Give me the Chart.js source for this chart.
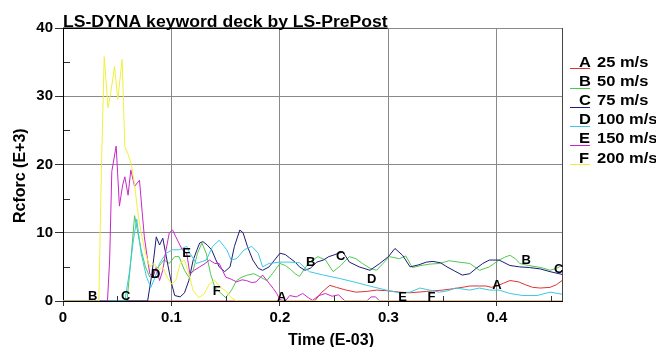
<!DOCTYPE html>
<html>
<head>
<meta charset="utf-8">
<script src="https://cdn.jsdelivr.net/npm/chart.js@4.4.1/dist/chart.umd.min.js"></script>
<style>
  html, body { margin: 0; padding: 0; background: #fff; }
  #wrap { width: 656px; height: 347px; }
</style>
</head>
<body>
<div id="wrap"><canvas id="rcforcChart" width="656" height="347"></canvas></div>
<script>
// Tiempo (E-03) y fuerza (E+3) por curva
const timeA  = [0, 0.232, 0.238, 0.246, 0.252, 0.261, 0.270, 0.280, 0.289, 0.299, 0.310, 0.320, 0.335, 0.350, 0.360, 0.368, 0.375, 0.384, 0.390, 0.395, 0.400, 0.406, 0.412, 0.420, 0.426, 0.433, 0.440, 0.449, 0.455, 0.460];
const forceA = [0, 0, 1.2, 2.3, 2, 1.6, 1.3, 1.4, 1.6, 1.5, 1.3, 1.2, 1.4, 1.6, 1.8, 2, 2.2, 2.2, 2.2, 2, 2.2, 2.6, 3, 2.8, 2.4, 2, 1.9, 2, 2.4, 3];

const timeB  = [0, 0.059, 0.062, 0.066, 0.069, 0.072, 0.076, 0.080, 0.084, 0.088, 0.093, 0.098, 0.103, 0.107, 0.112, 0.116, 0.120, 0.124, 0.128, 0.132, 0.136, 0.140, 0.145, 0.150, 0.155, 0.160, 0.165, 0.170, 0.176, 0.182, 0.188, 0.193, 0.200, 0.205, 0.210, 0.214, 0.218, 0.223, 0.228, 0.235, 0.242, 0.249, 0.256, 0.264, 0.270, 0.276, 0.283, 0.289, 0.295, 0.301, 0.310, 0.316, 0.322, 0.330, 0.338, 0.347, 0.356, 0.365, 0.375, 0.384, 0.393, 0.402, 0.407, 0.412, 0.417, 0.421, 0.429, 0.437, 0.443, 0.449, 0.455, 0.460];
const forceB = [0, 0, 5, 12.5, 10, 7.5, 5, 3.5, 4.5, 5, 6, 5.5, 6.5, 6.5, 4.5, 3.5, 4.5, 7, 8.5, 7, 4, 2, 1.2, 0.5, 1.5, 3, 3.5, 3.8, 4, 3.5, 3, 4, 5.5, 5.2, 4.6, 4, 3.6, 4.8, 5.8, 6.5, 6, 4.3, 5.2, 6.5, 6.2, 5.5, 4.8, 4.5, 5.5, 6.5, 6.2, 6.6, 4.9, 5.2, 5.4, 5.5, 5.9, 5.7, 5.5, 4.5, 5, 6, 6.4, 6.7, 6.2, 5.5, 5.2, 5, 4.8, 4.5, 4.8, 5.2];

const timeC  = [0, 0.078, 0.082, 0.086, 0.089, 0.092, 0.097, 0.100, 0.103, 0.108, 0.112, 0.116, 0.120, 0.1235, 0.126, 0.129, 0.133, 0.137, 0.141, 0.144, 0.149, 0.154, 0.158, 0.163, 0.166, 0.170, 0.175, 0.180, 0.184, 0.190, 0.195, 0.200, 0.205, 0.209, 0.214, 0.218, 0.223, 0.228, 0.234, 0.240, 0.245, 0.249, 0.254, 0.258, 0.264, 0.273, 0.283, 0.292, 0.300, 0.306, 0.313, 0.320, 0.328, 0.335, 0.341, 0.348, 0.354, 0.361, 0.368, 0.375, 0.381, 0.387, 0.393, 0.402, 0.412, 0.421, 0.430, 0.440, 0.449, 0.460];
const forceC = [0, 0, 4, 9.4, 8.2, 9.2, 5, 2.6, 0.8, 0.6, 1.2, 3, 6, 7.5, 8.5, 8.7, 8.2, 7.5, 6, 5, 4.3, 5, 8, 10.4, 10, 8, 6, 4.8, 4.5, 5, 6, 7, 6.8, 6.3, 5.7, 5, 4.5, 4.8, 5.7, 6, 6.5, 6.7, 7, 7.2, 5.7, 5, 4.5, 5.5, 6.5, 7.7, 6.7, 5, 5.3, 5.7, 5.8, 5.6, 5, 4.4, 3.8, 4, 4.8, 5.5, 6, 6, 5.2, 5, 4.9, 4.7, 4.3, 3.9];

const timeD  = [0, 0.057, 0.061, 0.065, 0.068, 0.072, 0.077, 0.081, 0.085, 0.089, 0.095, 0.101, 0.107, 0.114, 0.117, 0.123, 0.132, 0.138, 0.144, 0.151, 0.155, 0.160, 0.167, 0.174, 0.180, 0.184, 0.190, 0.200, 0.209, 0.218, 0.227, 0.240, 0.255, 0.268, 0.280, 0.298, 0.310, 0.320, 0.329, 0.338, 0.347, 0.355, 0.362, 0.375, 0.384, 0.393, 0.402, 0.412, 0.424, 0.437, 0.449, 0.460];
const forceD = [0, 0, 4, 9, 12, 7, 3.5, 2, 3.5, 5.5, 7, 7.5, 7.5, 8, 7, 5.5, 6, 8, 8.9, 7.5, 6, 6.2, 7.5, 8, 7, 5, 5.5, 5.7, 5.7, 5.6, 4.3, 3.8, 3.3, 2.8, 2.3, 1.6, 1.2, 1.3, 1.9, 1.6, 1.3, 1.5, 1.9, 1.6, 1.9, 1.6, 1.6, 1.1, 0.8, 0.8, 1.3, 1];

const timeE  = [0, 0.041, 0.043, 0.045, 0.049, 0.052, 0.055, 0.057, 0.060, 0.0625, 0.066, 0.0705, 0.073, 0.075, 0.078, 0.080, 0.083, 0.086, 0.089, 0.092, 0.095, 0.098, 0.101, 0.104, 0.110, 0.114, 0.117, 0.121, 0.126, 0.131, 0.135, 0.140, 0.144, 0.150, 0.155, 0.160, 0.165, 0.169, 0.174, 0.178, 0.184, 0.190, 0.194, 0.197, 0.200, 0.205, 0.209, 0.215, 0.221, 0.226, 0.230, 0.236, 0.242, 0.248, 0.254, 0.260, 0.280, 0.284, 0.288, 0.292, 0.460];
const forceE = [0, 0, 6, 19, 22.7, 13.9, 17, 18.2, 15.5, 19.2, 16.8, 17.7, 13, 9.4, 6, 4, 3.5, 5, 3, 4.5, 7.5, 10, 10.4, 9.4, 7.5, 7, 4, 4.5, 5, 5.5, 6, 5.5, 5.5, 3.5, 3.2, 2.8, 3.1, 3, 2.7, 2.8, 3.8, 2.6, 1.8, 1.1, 0.2, 0, 0.8, 0.6, 1.1, 0.5, 0.1, 0.8, 1.1, 0.7, 0.9, 0, 0, 0.6, 0.6, 0, 0];

const timeF  = [0, 0.030, 0.033, 0.0355, 0.038, 0.0415, 0.0445, 0.0475, 0.0505, 0.0545, 0.057, 0.060, 0.063, 0.066, 0.069, 0.072, 0.076, 0.080, 0.084, 0.088, 0.092, 0.096, 0.100, 0.104, 0.108, 0.112, 0.116, 0.120, 0.125, 0.130, 0.135, 0.140, 0.145, 0.150, 0.155, 0.160, 0.460];
const forceF = [0, 0, 0, 20, 35.8, 28.3, 31, 34.4, 29.5, 35.4, 22.6, 21.5, 20, 17, 13, 10, 7, 5, 5.5, 4.5, 5, 3.5, 2.5, 3, 5.5, 6, 4, 1.5, 0.5, 1, 2.5, 3, 2, 1.5, 0.5, 0, 0];

const seriesNames = ['25 m/s', '50 m/s', '75 m/s', '100 m/s', '150 m/s', '200 m/s'];
const seriesLetters = ['A', 'B', 'C', 'D', 'E', 'F'];

// Letras sobre las curvas (coordenadas de datos)
const markLetters = ['B', 'C', 'D', 'E', 'F', 'A', 'B', 'C', 'D', 'E', 'F', 'A', 'B', 'C'];
const markTimes   = [0.0274, 0.0578, 0.0855, 0.114, 0.1417, 0.2016, 0.2283, 0.2559, 0.2845, 0.313, 0.3397, 0.400, 0.427, 0.457];
const markForces  = [0.7, 0.7, 3.9, 7, 1.4, 0.55, 5.7, 6.6, 3.2, 0.55, 0.55, 2.3, 5.9, 4.7];

const minorX = [0.05, 0.15, 0.25, 0.35, 0.45];
const minorY = [5, 15, 25, 35];

const colores = ['rgb(222,52,52)', 'rgb(80,200,80)', 'rgb(28,28,120)', 'rgb(60,200,228)', 'rgb(200,40,200)', 'rgb(240,240,60)'];
const FONT = "'Liberation Sans', Arial, sans-serif";

function puntos(ts, vs) {
    return ts.map((t, i) => ({ x: t, y: vs[i] }));
}

const tiempos = [timeA, timeB, timeC, timeD, timeE, timeF];
const fuerzas = [forceA, forceB, forceC, forceD, forceE, forceF];

// Texto ensanchado (la imagen original esta estirada en horizontal)
function texto(ctx, str, x, y, sx) {
    ctx.save();
    ctx.translate(x, y);
    ctx.scale(sx, 1);
    ctx.fillText(str, 0, 0);
    ctx.restore();
}

const decoPlugin = {
    id: 'deco',
    afterDatasetsDraw(chart) {
        const ctx = chart.ctx;
        const xs = chart.scales.x, ys = chart.scales.y;
        const area = chart.chartArea;
        ctx.save();
        // marcas menores hacia dentro
        ctx.strokeStyle = '#333';
        ctx.lineWidth = 1;
        ctx.beginPath();
        minorX.forEach(v => {
            const px = Math.round(xs.getPixelForValue(v)) + 0.5;
            ctx.moveTo(px, area.bottom);
            ctx.lineTo(px, area.bottom - 5);
        });
        minorY.forEach(v => {
            const py = Math.round(ys.getPixelForValue(v)) + 0.5;
            ctx.moveTo(area.left + 1, py);
            ctx.lineTo(area.left + 7, py);
        });
        ctx.stroke();
        // borde derecho
        ctx.strokeStyle = '#444';
        ctx.beginPath();
        ctx.moveTo(Math.round(area.right) + 0.5, area.top);
        ctx.lineTo(Math.round(area.right) + 0.5, area.bottom);
        ctx.stroke();
        // letras de las curvas
        ctx.fillStyle = '#000';
        ctx.font = 'bold 13px ' + FONT;
        ctx.textAlign = 'center';
        ctx.textBaseline = 'middle';
        markLetters.forEach((l, i) => {
            ctx.fillText(l, xs.getPixelForValue(markTimes[i]), ys.getPixelForValue(markForces[i]));
        });
        ctx.restore();
    },
    afterDraw(chart) {
        const ctx = chart.ctx;
        const area = chart.chartArea;
        ctx.save();
        ctx.fillStyle = '#000';
        ctx.textAlign = 'left';
        ctx.textBaseline = 'alphabetic';
        // titulo subrayado
        ctx.font = 'bold 16px ' + FONT;
        const titulo = 'LS-DYNA keyword deck by LS-PrePost';
        texto(ctx, titulo, area.left, 26.5, 1.1);
        const w = ctx.measureText(titulo).width * 1.1;
        ctx.fillRect(area.left, 27.5, w, 1.5);
        // titulos de ejes
        texto(ctx, 'Time (E-03)', 288, 345, 1.0);
        ctx.save();
        ctx.translate(25, 176 + 47);
        ctx.rotate(-Math.PI / 2);
        ctx.fillText('Rcforc (E+3)', 0, 0);
        ctx.restore();
        // leyenda
        ctx.font = 'bold 15px ' + FONT;
        seriesNames.forEach((n, i) => {
            const yb = 66.5 + i * 19.2;
            ctx.strokeStyle = colores[i];
            ctx.lineWidth = 1;
            ctx.beginPath();
            ctx.moveTo(570, Math.round(yb + 1.8) + 0.5);
            ctx.lineTo(590, Math.round(yb + 1.8) + 0.5);
            ctx.stroke();
            ctx.fillStyle = '#000';
            texto(ctx, seriesLetters[i], 579, yb, 1.1);
            texto(ctx, n, 597, yb, 1.1);
        });
        ctx.restore();
    }
};

const ctx = document.getElementById('rcforcChart').getContext('2d');
const chart = new Chart(ctx, {
    type: 'line',
    data: {
        datasets: seriesNames.map((n, i) => ({
            label: seriesLetters[i] + ' ' + n,
            data: puntos(tiempos[i], fuerzas[i]),
            borderColor: colores[i],
            borderWidth: 1,
            pointRadius: 0,
            tension: 0,
            fill: false,
            order: 5 - i
        }))
    },
    options: {
        responsive: false,
        animation: false,
        events: [],
        layout: {
            padding: { left: 0, right: 94, top: 28, bottom: 0 }
        },
        scales: {
            x: {
                type: 'linear',
                min: 0,
                max: 0.46,
                ticks: {
                    stepSize: 0.1,
                    includeBounds: false,
                    maxRotation: 0,
                    padding: 3,
                    color: '#000',
                    font: { family: FONT, size: 15, weight: 'bold' },
                    callback: v => String(Math.round(v * 10) / 10)
                },
                grid: { color: '#8a8a8a', tickLength: 5, tickColor: '#333' },
                border: { color: '#000', width: 1 },
                afterFit: s => { s.height = 46; }
            },
            y: {
                min: 0,
                max: 40,
                ticks: {
                    stepSize: 10,
                    padding: 2,
                    color: '#000',
                    font: { family: FONT, size: 15, weight: 'bold' }
                },
                grid: { color: '#8a8a8a', tickLength: 8, tickColor: '#333' },
                border: { color: '#000', width: 1 },
                afterFit: s => { s.width = 63; }
            }
        },
        plugins: {
            legend: { display: false },
            tooltip: { enabled: false },
            title: { display: false }
        }
    },
    plugins: [decoPlugin]
});
</script>
</body>
</html>
